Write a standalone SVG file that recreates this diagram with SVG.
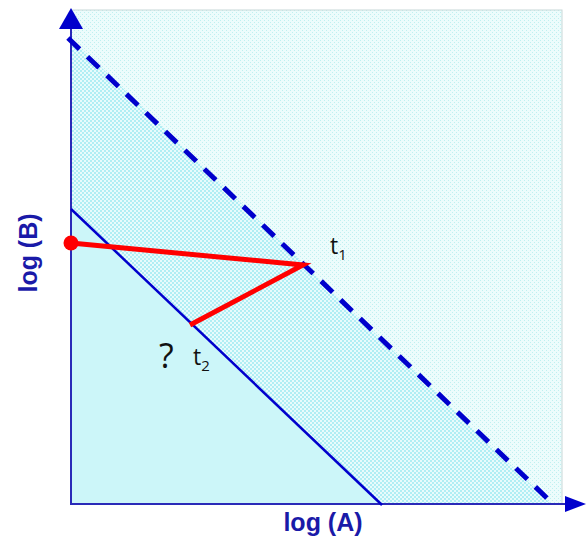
<svg xmlns="http://www.w3.org/2000/svg" width="587" height="542" viewBox="0 0 587 542">
<style>
.axis{stroke:#2a2ab8;stroke-width:2;fill:none}
.lbl{font-family:"Liberation Sans",Arial,sans-serif;font-weight:bold;font-size:25px;fill:#1a1aa8}
.t{font-family:"Open Sans","Liberation Sans",sans-serif;font-size:23px;fill:#111}
.q{font-family:"Open Sans","Liberation Sans",sans-serif;font-size:34px;fill:#111}
.red{stroke:#ff0000;stroke-width:5;fill:none;stroke-linecap:butt}
</style>
<defs>
<pattern id="light" width="4" height="4" patternUnits="userSpaceOnUse">
<rect width="4" height="4" fill="#ecfcfc"/>
<rect x="0" y="0" width="1" height="1" fill="#bff0f0"/>
<rect x="2" y="2" width="1" height="1" fill="#bff0f0"/>
</pattern>
<pattern id="mid" width="4" height="4" patternUnits="userSpaceOnUse">
<rect width="4" height="4" fill="#b0eef4"/>
<rect x="0" y="0" width="2" height="2" fill="#e8fbfc"/>
<rect x="2" y="2" width="2" height="2" fill="#e8fbfc"/>
</pattern>
</defs>
<g id="regions">
<rect x="71" y="10" width="491" height="494" fill="url(#light)" stroke="#c8d8d8" stroke-width="1"/>
<polygon points="71,38 550,503 71,503" fill="url(#mid)"/>
<polygon points="71,209 382,504 71,504" fill="#ccf6f9"/>
</g>
<g id="connectors">
<line class="axis" x1="71" y1="505" x2="71" y2="26"/>
<polygon points="71,8 59,29 83,29" fill="#0000cc"/>
<line class="axis" x1="70" y1="504" x2="568" y2="504"/>
<polygon points="586,504 565,496 565,512" fill="#0000cc"/>
<line x1="68" y1="38" x2="550" y2="501" stroke="#0000cc" stroke-width="5" stroke-dasharray="16,11"/>
<line x1="71" y1="209" x2="382" y2="505" stroke="#0000cc" stroke-width="2.5"/>
<polyline class="red" points="71,243 303,265 190,325"/>
<circle cx="71" cy="243" r="7.5" fill="#ff0000"/>
</g>
<g id="labels">
<text class="lbl" x="323" y="531" text-anchor="middle">log (A)</text>
<text class="lbl" transform="translate(37,253) rotate(-90)" text-anchor="middle">log (B)</text>
<text class="t" x="330" y="254">t<tspan font-size="15" dy="6">1</tspan></text>
<text class="t" x="193" y="365">t<tspan font-size="15" dy="6">2</tspan></text>
<text class="q" x="159" y="368">?</text>
</g>
</svg>
